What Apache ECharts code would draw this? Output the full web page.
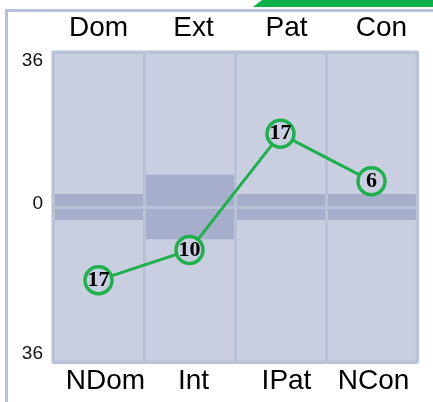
<!DOCTYPE html>
<html>
<head>
  <meta charset="UTF-8">
  <title>Profile chart</title>
  <script src="https://cdn.jsdelivr.net/npm/echarts@6/dist/echarts.min.js"></script>
</head>
<body style="margin:0; background:#fff;">
  <div id="main" style="width: 433px; height: 402px;"></div>

  <script>
    // top (positive) and bottom (negative) pole names
    const topLabels = ['Dom', 'Ext', 'Pat', 'Con'];
    const bottomLabels = ['NDom', 'Int', 'IPat', 'NCon'];

    // scores: positive = toward top pole, negative = toward bottom pole
    const scores = [-17, -10, 17, 6];

    // shaded middle band, half width above and below zero
    const bandUp = [3, 7.5, 3, 3];
    const bandDown = [-3, -7.5, -3, -3];

    const yTicks = [-36, 0, 36];

    // small horizontal nudges of the pole names (px)
    const topShift = [0, 4, 6, 10];
    const bottomShift = [7, 4, 6, 2];

    const plotBg = '#c9cee1';
    const lineCol = '#b8c1d6';
    const green = '#1db14b';

    // pole names, nudged sideways with a padding box
    function poleLabels(shifts, margin) {
      const rich = {};
      shifts.forEach((d, i) => {
        rich['s' + i] = {
          fontSize: 28, fontFamily: 'Liberation Sans', color: '#000',
          padding: [0, 0, 0, 2 * d]
        };
      });
      return {
        interval: 0,
        margin: margin,
        fontSize: 28,
        fontFamily: 'Liberation Sans',
        color: '#000',
        formatter: (v, i) => '{s' + i + '|' + v + '}',
        rich: rich
      };
    }

    const option = {
      animation: false,
      graphic: [
        {
          type: 'rect',
          shape: { x: 6.5, y: 10.5, width: 600, height: 600 },
          style: { fill: 'none', stroke: '#b6c1d7', lineWidth: 3 },
          z: -1
        },
        {
          type: 'polygon',
          shape: { points: [[253, 7], [262, 0], [433, 0], [433, 7]] },
          style: { fill: '#0db14b' }
        }
      ],
      grid: {
        left: 53, right: 16, top: 52, bottom: 40,
        show: true,
        backgroundColor: plotBg,
        borderColor: lineCol,
        borderWidth: 3
      },
      xAxis: [
        {
          type: 'category',
          position: 'top',
          data: topLabels,
          z: 3,
          axisLine: { show: false },
          axisTick: { show: false },
          splitLine: { show: true, interval: 0, lineStyle: { color: lineCol, width: 3 } },
          axisLabel: poleLabels(topShift, 10)
        },
        {
          type: 'category',
          position: 'bottom',
          data: bottomLabels,
          axisLine: { show: false },
          axisTick: { show: false },
          axisLabel: poleLabels(bottomShift, 5)
        }
      ],
      yAxis: {
        type: 'value',
        min: yTicks[0],
        max: yTicks[yTicks.length - 1],
        interval: 36,
        z: 3,
        axisLine: { show: false },
        axisTick: { show: false },
        splitLine: { show: true, lineStyle: { color: lineCol, width: 3 } },
        axisLabel: {
          margin: 10,
          fontSize: 19,
          fontFamily: 'Liberation Sans',
          color: '#000',
          formatter: (v) => {
            if (v === yTicks[yTicks.length - 1]) return '{t|' + Math.abs(v) + '}';
            if (v === yTicks[0]) return '{b|' + Math.abs(v) + '}';
            return '{m|' + Math.abs(v) + '}';
          },
          rich: {
            t: { fontSize: 19, fontFamily: 'Liberation Sans', color: '#111', padding: [18, 0, 0, 0] },
            m: { fontSize: 19, fontFamily: 'Liberation Sans', color: '#111', padding: [0, 0, 6, 0] },
            b: { fontSize: 19, fontFamily: 'Liberation Sans', color: '#111', padding: [0, 0, 16, 0] }
          }
        }
      },
      series: [
        {
          type: 'bar',
          stack: 'band',
          data: bandUp,
          barWidth: '100%',
          itemStyle: { color: '#a6aecb' },
          silent: true,
          z: 2
        },
        {
          type: 'bar',
          stack: 'band',
          data: bandDown,
          barWidth: '100%',
          itemStyle: { color: '#a6aecb' },
          silent: true,
          z: 2
        },
        {
          type: 'line',
          data: scores,
          z: 5,
          symbol: 'circle',
          symbolSize: 27,
          lineStyle: { color: green, width: 3 },
          itemStyle: { color: plotBg, borderColor: green, borderWidth: 3.5 },
          label: {
            show: true,
            position: 'inside',
            formatter: (p) => Math.abs(p.value),
            fontFamily: 'Liberation Serif',
            fontWeight: 'bold',
            fontSize: 22,
            color: '#000'
          }
        }
      ]
    };

    const chart = echarts.init(document.getElementById('main'));
    chart.setOption(option);
  </script>
</body>
</html>
